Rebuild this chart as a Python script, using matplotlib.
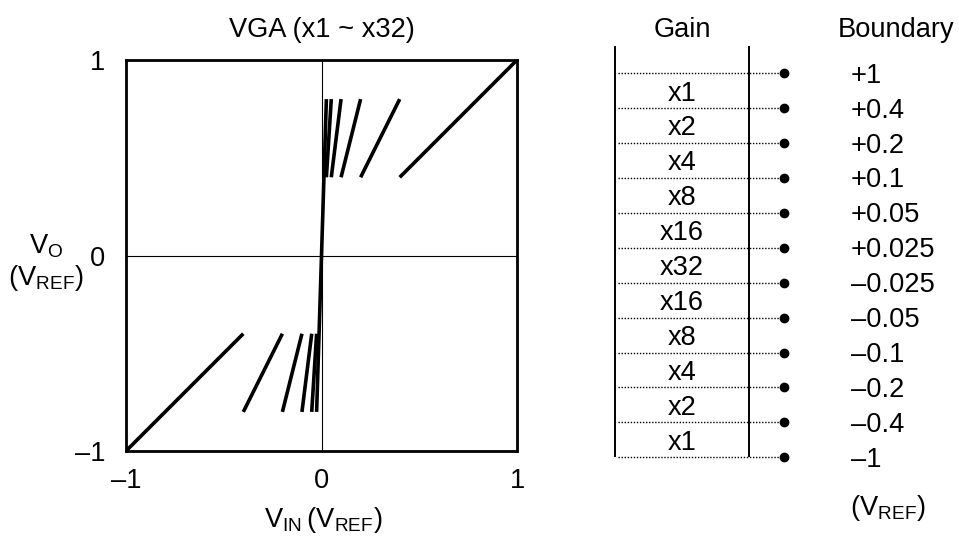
import numpy as np
import matplotlib
matplotlib.use("Agg")
import matplotlib.pyplot as plt

plt.rcParams['font.family'] = ['Liberation Sans', 'DejaVu Sans']
plt.rcParams['mathtext.default'] = 'regular'

# ---- data ----
gains = [1, 2, 4, 8, 16, 32, 16, 8, 4, 2, 1]
boundaries = [1, 0.4, 0.2, 0.1, 0.05, 0.025, -0.025, -0.05, -0.1, -0.2, -0.4, -1]
gain_labels = ["x1", "x2", "x4", "x8", "x16", "x32", "x16", "x8", "x4", "x2", "x1"]
boundary_labels = ["+1", "+0.4", "+0.2", "+0.1", "+0.05", "+0.025",
                   "\u20130.025", "\u20130.05", "\u20130.1", "\u20130.2", "\u20130.4", "\u20131"]
tick_vals = [-1, 0, 1]
tick_labels = ["\u20131", "0", "1"]

W, H = 959, 541
FS = 19.6
fig = plt.figure(figsize=(W / 100, H / 100), dpi=100)

def fx(x):
    return x / W

def fy(y):
    return 1 - y / H

# ---- left transfer plot ----
ax = fig.add_axes([fx(126), fy(451), 391 / W, 391 / H])
ax.set_xlim(-1, 1)
ax.set_ylim(-1, 1)
ax.axhline(0, color='black', lw=0.8, zorder=1)
ax.axvline(0, color='black', lw=0.8, zorder=1)
for i, g in enumerate(gains):
    hi = boundaries[i]
    lo = boundaries[i + 1]
    xs = np.array([lo, hi])
    ax.plot(xs, g * xs, color='black', lw=2.6, solid_capstyle='butt', zorder=3)
for s in ax.spines.values():
    s.set_linewidth(2.0)
ax.set_xticks(tick_vals)
ax.set_xticklabels(tick_labels)
ax.set_yticks(tick_vals)
ax.set_yticklabels(tick_labels)
ax.tick_params(axis='both', length=0, labelsize=FS)
ax.tick_params(axis='x', pad=12.5)
ax.tick_params(axis='y', pad=15)

fig.text(fx(322), fy(37), "VGA (x1 ~ x32)", ha='center', va='baseline', fontsize=FS)
fig.text(fx(323), fy(527), r"$V_{IN}\,(V_{REF})$", ha='center', va='baseline', fontsize=FS)
fig.text(fx(46), fy(254), r"$V_O$", ha='center', va='baseline', fontsize=FS)
fig.text(fx(46), fy(285), r"$(V_{REF})$", ha='center', va='baseline', fontsize=FS)

# ---- right gain / boundary table ----
y0, dy = 73.3, 34.9
ax2 = fig.add_axes([0, 0, 1, 1])
ax2.set_xlim(0, W)
ax2.set_ylim((H - y0) / dy, -y0 / dy)
ax2.axis('off')
ax2.patch.set_alpha(0)

rows = np.arange(len(boundaries))
ax2.hlines(rows, 618, 784, colors='black', lw=1.0, linestyles=(0, (1, 1.2)))
ax2.plot(np.full(len(rows), 784), rows, 'o', color='black', ms=6)
ax2.vlines([615, 749], -27.3 / dy, rows[-1], colors='black', lw=1.4)

for i, lab in enumerate(gain_labels):
    ax2.text(682, i + 0.5 + 0.08, lab, ha='center', va='center', fontsize=FS)
for i, lab in enumerate(boundary_labels):
    ax2.text(851, i + 0.07, lab, ha='left', va='center', fontsize=FS)

fig.text(fx(682), fy(37), "Gain", ha='center', va='baseline', fontsize=FS)
fig.text(fx(838), fy(37), "Boundary", ha='left', va='baseline', fontsize=FS)
fig.text(fx(888), fy(515), r"$(V_{REF})$", ha='center', va='baseline', fontsize=FS)

fig.savefig("out.png", dpi=100)
